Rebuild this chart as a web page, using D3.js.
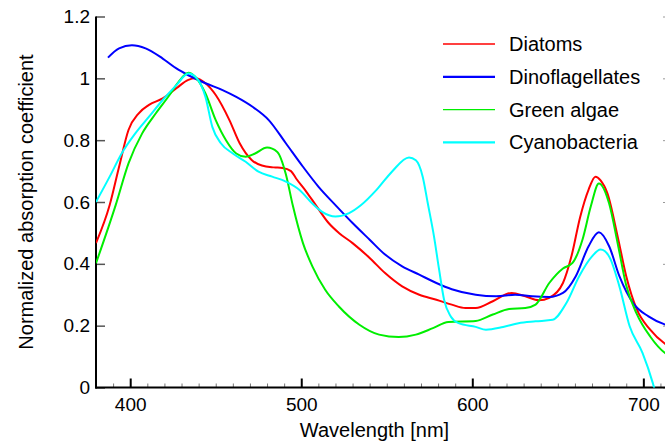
<!DOCTYPE html>
<html>
<head>
<meta charset="utf-8">
<script src="https://cdn.jsdelivr.net/npm/d3@7"></script>
<style>
  body { margin: 0; background: #fff; }
  svg { font-family: Arial, "Liberation Sans", sans-serif; }
</style>
</head>
<body>
<svg id="chart" width="665" height="443"></svg>
<script>
// Absorption spectra: [wavelength nm, normalized value]
const diatoms = [[380,0.467],[388,0.59],[393.5,0.714],[399,0.833],[405,0.887],[411,0.914],[419,0.935],[427,0.968],[434,0.995],[438,1.0],[444,0.984],[450,0.946],[458,0.865],[464,0.79],[471,0.736],[477,0.718],[484,0.712],[489,0.71],[494,0.7],[497,0.676],[503,0.633],[508.5,0.59],[516,0.532],[522,0.5],[530,0.467],[540,0.419],[549,0.37],[559,0.327],[569,0.3],[579,0.284],[588,0.268],[596,0.257],[602,0.257],[612,0.279],[623,0.306],[631,0.295],[639,0.282],[645,0.29],[653,0.338],[658,0.425],[663,0.55],[668,0.64],[672,0.682],[675,0.67],[679,0.628],[685,0.488],[690,0.36],[696,0.255],[704,0.187],[713,0.14],[716,0.13]];
const dinoflagellates = [[387,1.067],[393.5,1.097],[401,1.107],[409,1.097],[419,1.064],[427,1.032],[434,1.01],[444,0.984],[454,0.962],[462,0.94],[471.5,0.908],[481,0.865],[491,0.79],[501,0.714],[510,0.65],[520,0.59],[530,0.532],[540,0.478],[549,0.43],[559,0.392],[569,0.365],[579,0.338],[588,0.318],[602,0.3],[614,0.295],[625,0.3],[635,0.295],[645,0.293],[653,0.306],[660.5,0.36],[668,0.457],[674,0.502],[680,0.457],[686,0.36],[694,0.273],[703,0.23],[713,0.203],[716,0.198]];
const greenAlgae = [[380,0.402],[391.5,0.59],[399,0.725],[407,0.822],[415,0.887],[423,0.946],[428.5,0.99],[434,1.018],[438,1.005],[444,0.951],[450,0.865],[456,0.8],[462,0.757],[467.5,0.746],[473,0.757],[480,0.776],[486,0.762],[491,0.69],[495,0.59],[501,0.467],[506.5,0.392],[514,0.316],[522,0.262],[534,0.203],[545.5,0.171],[557,0.163],[567,0.171],[577,0.192],[586,0.212],[602,0.215],[612,0.236],[621.5,0.254],[631,0.257],[637,0.268],[645,0.338],[653,0.385],[658.6,0.403],[664.4,0.478],[669.3,0.586],[674,0.66],[680,0.595],[685,0.466],[690,0.33],[696,0.24],[704,0.165],[713,0.11],[716,0.1]];
const cyanobacteria = [[380,0.6],[388,0.682],[395,0.757],[403,0.822],[411,0.876],[419,0.93],[427,0.978],[434,1.016],[439,1.0],[444,0.94],[448,0.843],[453,0.79],[460,0.757],[467.5,0.73],[475,0.698],[483,0.682],[491,0.666],[499,0.639],[506.5,0.595],[512,0.569],[520,0.553],[528,0.564],[535,0.59],[544,0.639],[553,0.698],[563,0.744],[567,0.735],[571,0.682],[574,0.595],[577.6,0.489],[580.6,0.381],[583.5,0.284],[587.4,0.23],[592,0.208],[602,0.196],[608,0.187],[618,0.196],[627,0.208],[637,0.214],[647,0.219],[655,0.273],[662.5,0.36],[670,0.424],[675,0.446],[680,0.424],[686,0.327],[692,0.198],[699.5,0.112],[705.5,0.015],[710,-0.08]];

const seriesNames = ['Diatoms', 'Dinoflagellates', 'Green algae', 'Cyanobacteria'];
const seriesColors = ['#ff0000', '#0000ff', '#00ee00', '#00ffff'];
const seriesData = [diatoms, dinoflagellates, greenAlgae, cyanobacteria];

const xMajorTicks = [400, 500, 600, 700];
const xMinorTicks = d3.range(390, 720, 10).filter(v => v % 100 !== 0);
const yTicks = [0, 0.2, 0.4, 0.6, 0.8, 1, 1.2];

const svg = d3.select('#chart');
const plot = { left: 96, right: 669, top: 16.5, bottom: 387.5 };
const fontFamily = 'Arial, "Liberation Sans", sans-serif';

const x = d3.scaleLinear().domain([380, 715]).range([plot.left, plot.right]);
const y = d3.scaleLinear().domain([0, 1.2]).range([plot.bottom, plot.top]);

// clip the curves to the plotting area
svg.append('defs').append('clipPath').attr('id', 'plotClip')
  .append('rect')
  .attr('x', plot.left).attr('y', plot.top)
  .attr('width', plot.right - plot.left).attr('height', plot.bottom - plot.top);

// minor x ticks
svg.append('g')
  .attr('transform', `translate(0,${plot.bottom})`)
  .call(d3.axisBottom(x).tickValues(xMinorTicks).tickSize(-4).tickFormat(''))
  .call(g => g.select('.domain').remove())
  .call(g => g.selectAll('line').attr('stroke', '#777').attr('stroke-width', 1));

// major x ticks and labels
svg.append('g')
  .attr('transform', `translate(0,${plot.bottom})`)
  .call(d3.axisBottom(x).tickValues(xMajorTicks).tickSize(-9).tickPadding(10.5).tickFormat(d3.format('d')))
  .call(g => g.select('.domain').remove())
  .call(g => g.selectAll('line').attr('stroke', '#000').attr('stroke-width', 2))
  .call(g => g.selectAll('text').attr('font-size', 19).attr('fill', '#000').attr('font-family', fontFamily));

// y ticks and labels
svg.append('g')
  .attr('transform', `translate(${plot.left},0)`)
  .call(d3.axisLeft(y).tickValues(yTicks).tickSize(-9).tickPadding(6).tickFormat(d => String(d)))
  .call(g => g.select('.domain').remove())
  .call(g => g.selectAll('line').attr('stroke', '#555').attr('stroke-width', 1.5))
  .call(g => g.selectAll('text').attr('font-size', 19).attr('fill', '#000').attr('font-family', fontFamily));

// right side ticks (axis itself sits just outside the picture)
svg.append('g')
  .attr('transform', `translate(${plot.right},0)`)
  .call(d3.axisRight(y).tickValues(yTicks).tickSize(-6).tickFormat(''))
  .call(g => g.select('.domain').remove())
  .call(g => g.selectAll('line').attr('stroke', '#999').attr('stroke-width', 1));

// axis lines
svg.append('line')
  .attr('x1', plot.left).attr('x2', plot.left).attr('y1', plot.top).attr('y2', plot.bottom + 1)
  .attr('stroke', '#000').attr('stroke-width', 2);
svg.append('line')
  .attr('x1', plot.left - 1).attr('x2', plot.right).attr('y1', plot.bottom).attr('y2', plot.bottom)
  .attr('stroke', '#000').attr('stroke-width', 2);

// spectra
const line = d3.line()
  .x(d => x(d[0]))
  .y(d => y(d[1]))
  .curve(d3.curveMonotoneX);

svg.append('g')
  .attr('clip-path', 'url(#plotClip)')
  .selectAll('path')
  .data(seriesData)
  .enter().append('path')
    .attr('d', d => line(d))
    .attr('fill', 'none')
    .attr('stroke', (d, i) => seriesColors[i])
    .attr('stroke-width', 2)
    .attr('stroke-linejoin', 'round');

// legend
const legendWidths = [1.4, 2.2, 1.4, 2.2];
const legend = svg.append('g')
  .selectAll('g')
  .data(seriesNames)
  .enter().append('g')
    .attr('transform', (d, i) => `translate(443,${44 + i * 32.8})`);

legend.append('line')
  .attr('x1', 0).attr('x2', 52)
  .attr('stroke', (d, i) => seriesColors[i])
  .attr('stroke-width', (d, i) => legendWidths[i]);

legend.append('text')
  .attr('x', 66)
  .attr('dy', '0.35em')
  .attr('font-size', 20)
  .text(d => d);

// axis titles
svg.append('text')
  .attr('x', (plot.left + plot.right) / 2 - 8)
  .attr('y', 437)
  .attr('text-anchor', 'middle')
  .attr('font-size', 20)
  .text('Wavelength [nm]');

svg.append('text')
  .attr('transform', `translate(33,${(plot.top + plot.bottom) / 2}) rotate(-90)`)
  .attr('text-anchor', 'middle')
  .attr('font-size', 20)
  .text('Normalized absorption coefficient');
</script>
</body>
</html>
